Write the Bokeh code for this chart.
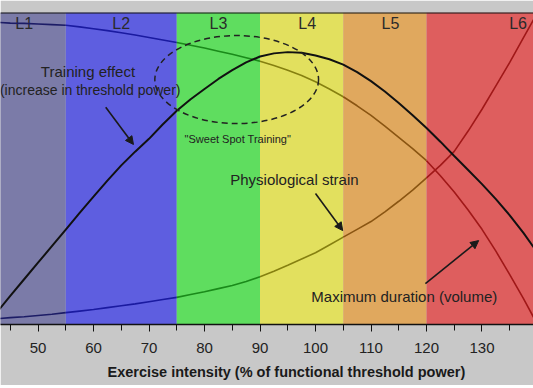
from bokeh.plotting import figure
from bokeh.models import (Range1d, SingleIntervalTicker, Span, Arrow, NormalHead,
                          ColumnDataSource, Title)
from bokeh.core.properties import value
from bokeh.embed import file_html
from bokeh.resources import INLINE

# ---- data ----
zone_labels = ["L1", "L2", "L3", "L4", "L5", "L6"]
zone_start = [40, 55, 75, 90, 105, 120]
zone_end = [55, 75, 90, 105, 120, 150]
zone_label_x = [47.5, 65, 82.5, 98.5, 113.5, 136.5]
zone_colors = ["#7b7ba8", "#5e5ee0", "#5fdd5f", "#e2e05e", "#e0a85e", "#de5e5e"]
zone_line_colors = ["#1c1c66", "#1a1aa0", "#1a8a1a", "#868010", "#8a5512", "#a01818"]

intensity = [43, 45, 47.5, 50, 52.5, 55, 57.5, 60, 62.5, 65, 67.5, 70, 72.5, 75,
             77.5, 80, 82.5, 85, 87.5, 90, 92.5, 95, 97.5, 100, 102.5, 105, 107.5,
             110, 112.5, 115, 117.5, 120, 122.5, 125, 127.5, 130, 132.5, 135, 137.5,
             140]
training_effect = [4.8, 9.2, 14.5, 19.8, 25.1, 30.4, 35.8, 41, 46.1, 51, 55.4, 59.5,
                   64.2, 68.5, 72.2, 75.5, 78.7, 81.5, 84, 85.9, 86.9, 87.3, 87.1,
                   86.2, 85, 83.3, 80.9, 78, 74.7, 71, 67.1, 63, 58.6, 54, 49.5, 45,
                   40.2, 35, 29.3, 23]
max_duration = [96.8, 96.6, 96.5, 96.3, 96.1, 95.9, 95.4, 94.8, 94.2, 93.5, 92.8, 92,
                91.2, 90.4, 89.5, 88.6, 87.6, 86.6, 85.5, 84.4, 83, 81.5, 79.8, 77.8,
                75.5, 73, 70.1, 67, 63.6, 60, 56.4, 52.5, 47.7, 42.5, 36.7, 30.5, 23.5,
                16, 8.2, 0]
strain = [1.9, 2.2, 2.5, 2.9, 3.3, 3.8, 4.3, 4.8, 5.4, 6, 6.6, 7.3, 8, 8.7, 9.6, 10.5,
          11.5, 12.5, 13.8, 15.3, 17.1, 19, 21, 23, 25.5, 28, 30.5, 33, 36.1, 39.5,
          43.1, 47, 51, 55.5, 62, 69, 76.5, 84, 92, 100]

text_labels = ["Training effect", "(increase in threshold power)",
               "\"Sweet Spot Training\"", "Physiological strain",
               "Maximum duration (volume)"]
text_x = [59.0, 59.4, 86.0, 96.2, 116.0]
text_y = [81.1, 75.3, 59.6, 46.5, 9.0]
text_sizes = ["15px", "14px", "11px", "15px", "15px"]

arrow_x0 = [62.2, 100.0, 119.8]
arrow_y0 = [69.6, 42.0, 13.1]
arrow_x1 = [67.2, 104.9, 129.4]
arrow_y1 = [57.7, 30.1, 26.9]

sweet_spot_center = (85.8, 78.5)
sweet_spot_size = (29.5, 28.2)

x_ticks_interval = 10
x_title = "Exercise intensity (% of functional threshold power)"

# ---- figure ----
p = figure(frame_width=533, frame_height=312, output_backend="svg",
           toolbar_location=None, x_range=Range1d(43.24, 139.28),
           y_range=Range1d(0, 100), y_axis_location=None,
           min_border_left=0, min_border_right=0, min_border_top=12,
           min_border_bottom=0)
p.background_fill_color = "#c8c8c8"
p.border_fill_color = "#c8c8c8"
p.outline_line_color = None
p.xgrid.visible = False
p.ygrid.visible = False

# zones
p.quad(left=zone_start, right=zone_end, bottom=0, top=100, fill_color=zone_colors,
       line_color=None)
p.text(x=zone_label_x, y=[96.5] * 6, text=zone_labels, text_align="center",
       text_baseline="middle", text_font=value("Liberation Sans"),
       text_font_size="16px", text_color="#2a2a2a")

# descending and rising curves, colored per zone
for zs, ze, lc in zip(zone_start, zone_end, zone_line_colors):
    idx = [i for i, xv in enumerate(intensity) if zs <= xv <= ze]
    xs = [intensity[i] for i in idx]
    p.line(xs, [max_duration[i] for i in idx], line_color=lc, line_width=1.6)
    p.line(xs, [strain[i] for i in idx], line_color=lc, line_width=1.6)

# training effect
p.line(intensity, training_effect, line_color="#111111", line_width=2)

# sweet spot ellipse
p.ellipse(x=[sweet_spot_center[0]], y=[sweet_spot_center[1]],
          width=sweet_spot_size[0], height=sweet_spot_size[1],
          fill_color=None, line_color="#222222", line_dash="6 4", line_width=1.5)

# texts
p.text(x=text_x, y=text_y, text=text_labels, text_align="center",
       text_baseline="middle", text_font=value("Liberation Sans"),
       text_font_size=text_sizes, text_color="#222222")

# arrows
asrc = ColumnDataSource(dict(x0=arrow_x0, y0=arrow_y0, x1=arrow_x1, y1=arrow_y1))
p.add_layout(Arrow(end=NormalHead(size=8, fill_color="#1a1a1a", line_color="#1a1a1a"),
                   x_start="x0", y_start="y0", x_end="x1", y_end="y1",
                   line_color="#1a1a1a", line_width=1.6, source=asrc))

# top border
p.add_layout(Span(location=100, dimension="width", line_color="#111111",
                  line_width=2))

# x axis
ax = p.xaxis[0]
ax.ticker = SingleIntervalTicker(interval=x_ticks_interval, num_minor_ticks=2)
ax.axis_line_color = "#111111"
ax.axis_line_width = 1.5
ax.major_tick_out = 7
ax.major_tick_in = 0
ax.minor_tick_out = 6
ax.minor_tick_in = 0
ax.major_tick_line_color = "#111111"
ax.minor_tick_line_color = "#111111"
ax.major_label_text_font = "Liberation Sans"
ax.major_label_text_font_size = "15px"
ax.major_label_text_color = "#222222"
ax.major_label_standoff = 11

# axis title (off-centre, as in the cropped original)
p.add_layout(Title(text=x_title, align="left", offset=107, standoff=12,
                   text_font="Liberation Sans", text_font_style="bold",
                   text_font_size="14.5px", text_color="#1a1a1a"), "below")

open("out.html", "w").write(file_html(p, INLINE))
